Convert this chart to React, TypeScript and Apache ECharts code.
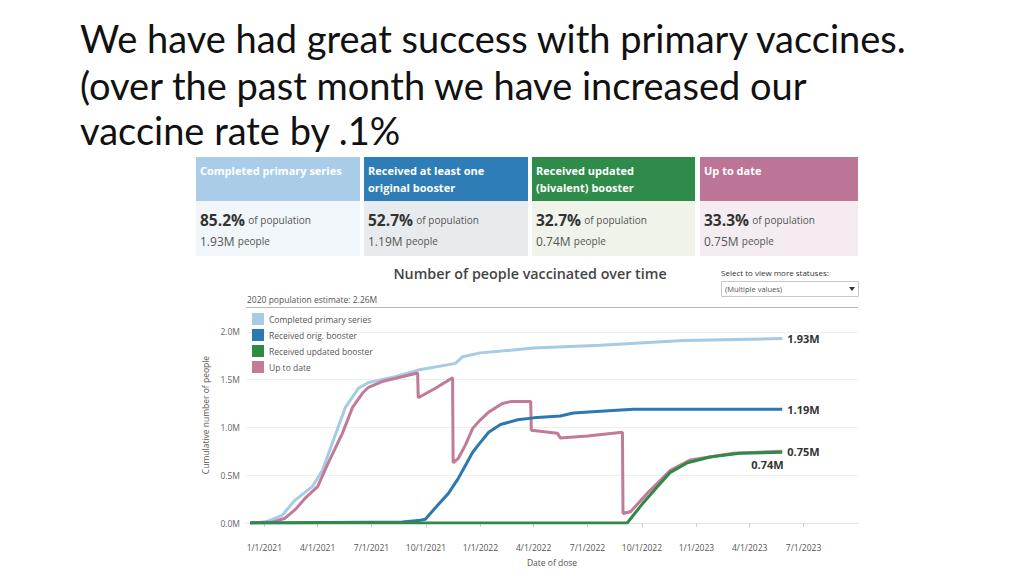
import React, { useEffect, useRef } from 'react';
import * as echarts from 'echarts';

// ---------- text content ----------
const titleLines = [
  'We have had great success with primary vaccines.',
  '(over the past month we have increased our',
  'vaccine rate by .1%',
];
const chartTitle = 'Number of people vaccinated over time';
const selectLabel = 'Select to view more statuses:';
const selectValue = '(Multiple values)';

// ---------- KPI cards ----------
const cardTitles = [
  'Completed primary series',
  'Received at least one\noriginal booster',
  'Received updated\n(bivalent) booster',
  'Up to date',
];
const cardPercents = ['85.2%', '52.7%', '32.7%', '33.3%'];
const cardPeople = ['1.93M', '1.19M', '0.74M', '0.75M'];

// ---------- series ----------
const seriesNames = [
  'Completed primary series',
  'Received orig. booster',
  'Received updated booster',
  'Up to date',
];
const populationEstimate = 2.26; // millions

const completedDates = [
  '2020-12-08', '2021-01-03', '2021-01-31', '2021-02-22', '2021-03-23', '2021-04-09',
  '2021-04-26', '2021-05-18', '2021-06-09', '2021-06-26', '2021-08-10', '2021-09-18',
  '2021-11-20', '2021-12-02', '2022-01-01', '2022-04-01', '2022-07-23', '2022-12-10',
  '2023-05-26',
];
const completedValues = [
  0, 0.01, 0.08, 0.24, 0.38, 0.55,
  0.84, 1.21, 1.41, 1.47, 1.53, 1.6,
  1.67, 1.74, 1.78, 1.83, 1.86, 1.91,
  1.93,
];

const origBoosterDates = [
  '2020-12-08', '2021-08-22', '2021-09-18', '2021-09-30', '2021-10-17', '2021-11-08',
  '2021-11-25', '2021-12-19', '2021-12-29', '2022-01-15', '2022-02-04', '2022-03-05',
  '2022-04-01', '2022-05-16', '2022-06-07', '2022-07-23', '2022-09-17', '2022-11-18',
  '2023-05-26',
];
const origBoosterValues = [
  0, 0.01, 0.025, 0.04, 0.16, 0.31,
  0.47, 0.74, 0.82, 0.95, 1.03, 1.08,
  1.1, 1.12, 1.15, 1.17, 1.19, 1.19,
  1.19,
];

const updatedBoosterDates = [
  '2020-12-08', '2022-09-06', '2022-10-03', '2022-10-27', '2022-11-18', '2022-12-17',
  '2023-01-24', '2023-03-15', '2023-05-26',
];
const updatedBoosterValues = [0, 0, 0.21, 0.38, 0.53, 0.63, 0.69, 0.73, 0.74];

const upToDateDates = [
  '2020-12-08', '2021-01-15', '2021-02-05', '2021-02-22', '2021-03-11', '2021-04-01',
  '2021-04-19', '2021-05-13', '2021-05-30', '2021-06-16', '2021-06-26', '2021-07-19',
  '2021-09-17', '2021-09-18', '2021-10-17', '2021-11-15', '2021-11-16', '2021-11-25',
  '2021-12-07', '2021-12-19', '2021-12-29', '2022-01-15', '2022-02-07', '2022-02-21',
  '2022-03-27', '2022-03-28', '2022-05-11', '2022-05-16', '2022-07-01', '2022-08-29',
  '2022-08-30', '2022-09-12', '2022-10-10', '2022-11-18', '2022-12-22', '2023-03-04',
  '2023-05-26',
];
const upToDateValues = [
  0, 0.01, 0.05, 0.14, 0.26, 0.38,
  0.63, 0.94, 1.21, 1.36, 1.42, 1.48,
  1.57, 1.31, 1.41, 1.52, 0.63, 0.68,
  0.82, 0.99, 1.06, 1.16, 1.25, 1.27,
  1.27, 0.97, 0.94, 0.89, 0.91, 0.95,
  0.1, 0.12, 0.31, 0.55, 0.66, 0.73,
  0.75,
];

const xTickDates = [
  '2021-01-01', '2021-04-01', '2021-07-01', '2021-10-01', '2022-01-01', '2022-04-01',
  '2022-07-01', '2022-10-01', '2023-01-01', '2023-04-01', '2023-07-01',
];
const xMin = '2020-12-01';
const xMax = '2023-10-01';

// ---------- styles ----------
const lineColors = ['#a6cbe6', '#2b78b2', '#2f8a45', '#c27a99'];
const headerColors = ['#a9cde9', '#2e7db6', '#2e8b4a', '#bd7595'];
const bodyColors = ['#f0f6fa', '#e8ebee', '#eff3e9', '#f4ecf1'];
const FONT = '"Open Sans", "Noto Sans", sans-serif';
const TITLE_FONT = 'Lato, "Noto Sans", sans-serif';

const toTs = (s: string) => {
  const [y, m, d] = s.split('-').map(Number);
  return new Date(y, m - 1, d).getTime();
};
const zip = (dates: string[], values: number[]) =>
  dates.map((d, i) => [toTs(d), values[i]]);

export default function App() {
  const ref = useRef<HTMLDivElement>(null);

  useEffect(() => {
    if (!ref.current) return;
    const chart = echarts.init(ref.current, null, { renderer: 'svg' });

    const graphic: any[] = [];
    // big title
    const titleY = [38, 85, 130];
    titleLines.forEach((t, i) => {
      graphic.push({
        type: 'text',
        x: 80,
        y: titleY[i],
        style: {
          text: t,
          fontFamily: TITLE_FONT,
          fontSize: 38,
          fill: '#111',
          verticalAlign: 'middle',
          align: 'left',
        },
      });
    });

    // cards
    const cardX = [196, 364, 532, 700];
    const cardW = [164, 164, 163, 158];
    cardTitles.forEach((t, i) => {
      const x = cardX[i];
      graphic.push({
        type: 'rect',
        shape: { x, y: 157, width: cardW[i], height: 44 },
        style: { fill: headerColors[i] },
      });
      graphic.push({
        type: 'rect',
        shape: { x, y: 201, width: cardW[i], height: 55 },
        style: { fill: bodyColors[i] },
      });
      graphic.push({
        type: 'text',
        x: x + 4,
        y: 162,
        style: {
          text: t,
          fontFamily: FONT,
          fontSize: 11,
          fontWeight: 'bold',
          fill: '#ffffff',
          lineHeight: 17,
          verticalAlign: 'top',
        },
      });
      graphic.push({
        type: 'text',
        x: x + 4,
        y: 220,
        style: {
          text: `{b|${cardPercents[i]}} {s|of population}`,
          rich: {
            b: { fontFamily: FONT, fontSize: 15.5, fontWeight: 'bold', fill: '#333', color: '#333' },
            s: { fontFamily: FONT, fontSize: 10, fill: '#555', color: '#555' },
          },
          verticalAlign: 'middle',
        },
      });
      graphic.push({
        type: 'text',
        x: x + 4,
        y: 241,
        style: {
          text: `{m|${cardPeople[i]}} {s|people}`,
          rich: {
            m: { fontFamily: FONT, fontSize: 12, fill: '#555', color: '#555' },
            s: { fontFamily: FONT, fontSize: 10, fill: '#555', color: '#555' },
          },
          verticalAlign: 'middle',
        },
      });
    });

    // chart title & selector
    graphic.push({
      type: 'text',
      x: 530,
      y: 273,
      style: {
        text: chartTitle,
        fontFamily: FONT,
        fontSize: 14.3,
        fontWeight: 600,
        fill: '#444',
        align: 'center',
        verticalAlign: 'middle',
      },
    });
    graphic.push({
      type: 'text',
      x: 721,
      y: 272,
      style: { text: selectLabel, fontFamily: FONT, fontSize: 8, fill: '#333', verticalAlign: 'middle' },
    });
    graphic.push({
      type: 'rect',
      shape: { x: 721.5, y: 281.5, width: 137, height: 15 },
      style: { fill: '#fff', stroke: '#c8c8c8', lineWidth: 1 },
    });
    graphic.push({
      type: 'text',
      x: 725,
      y: 289,
      style: { text: selectValue, fontFamily: FONT, fontSize: 7.5, fill: '#555', verticalAlign: 'middle' },
    });
    graphic.push({
      type: 'polygon',
      shape: { points: [[849, 287], [855, 287], [852, 291]] },
      style: { fill: '#333' },
    });

    const endLabel = (offset: number[]) => ({
      show: true,
      distance: 5,
      offset,
      fontFamily: FONT,
      fontSize: 11,
      fontWeight: 'bold',
      color: '#333',
      formatter: (p: any) => `${p.value[1].toFixed(2)}M`,
    });

    const mkSeries = (name: string, data: any[], color: string, off: number[], z: number, extra: any = {}) => ({
      name,
      type: 'line',
      data,
      showSymbol: false,
      symbol: 'none',
      z,
      lineStyle: { color, width: 3 },
      itemStyle: { color },
      endLabel: endLabel(off),
      emphasis: { disabled: true },
      ...extra,
    });

    const tickTs = xTickDates.map(toTs);

    const option: any = {
      animation: false,
      backgroundColor: '#ffffff',
      textStyle: { fontFamily: FONT },
      graphic,
      legend: {
        data: seriesNames,
        orient: 'vertical',
        left: 247,
        top: 308,
        icon: 'rect',
        itemWidth: 12,
        itemHeight: 12,
        itemGap: 4,
        textStyle: { fontFamily: FONT, fontSize: 8.5, color: '#555' },
      },
      grid: { left: 246, right: 166, top: 307, bottom: 53, containLabel: false },
      xAxis: {
        type: 'value',
        min: toTs(xMin),
        max: toTs(xMax),
        offset: 13,
        name: 'Date of dose',
        nameLocation: 'middle',
        nameGap: 22,
        nameTextStyle: { fontFamily: FONT, fontSize: 8.5, color: '#555' },
        axisLine: { show: true, lineStyle: { color: '#e4e4e4' } },
        axisTick: {
          show: true,
          length: 4,
          lineStyle: { color: '#cfcfcf' },
          customValues: tickTs,
        },
        axisLabel: {
          fontFamily: FONT,
          fontSize: 8.5,
          color: '#555',
          margin: 7,
          customValues: tickTs,
          formatter: (v: number) => {
            const d = new Date(v);
            return `${d.getMonth() + 1}/${d.getDate()}/${d.getFullYear()}`;
          },
        },
        splitLine: { show: false },
      },
      yAxis: {
        type: 'value',
        min: 0,
        max: populationEstimate,
        interval: 0.5,
        name: 'Cumulative number of people',
        nameLocation: 'middle',
        nameGap: 31,
        nameTextStyle: { fontFamily: FONT, fontSize: 8.5, color: '#555' },
        axisLine: { show: false },
        axisTick: { show: false },
        axisLabel: {
          fontFamily: FONT,
          fontSize: 8.5,
          color: '#666',
          margin: 6,
          showMaxLabel: false,
          formatter: (v: number) => `${v.toFixed(1)}M`,
        },
        splitLine: { show: true, lineStyle: { color: '#efefef', width: 1 } },
      },
      series: [
        mkSeries(seriesNames[0], zip(completedDates, completedValues), lineColors[0], [0, 0], 2, {
          markLine: {
            silent: true,
            symbol: 'none',
            lineStyle: { color: '#b8b8b8', width: 1, type: 'solid' },
            data: [{ yAxis: populationEstimate }],
            label: {
              show: true,
              position: 'insideStartTop',
              distance: [1, 3],
              fontFamily: FONT,
              fontSize: 8.5,
              color: '#555',
              formatter: () => `2020 population estimate: ${populationEstimate}M`,
            },
          },
        }),
        mkSeries(seriesNames[3], zip(upToDateDates, upToDateValues), lineColors[3], [0, 0], 3),
        mkSeries(seriesNames[1], zip(origBoosterDates, origBoosterValues), lineColors[1], [0, 0], 4),
        mkSeries(seriesNames[2], zip(updatedBoosterDates, updatedBoosterValues), lineColors[2], [-36, 12], 5),
      ],
    };

    chart.setOption(option);
    return () => chart.dispose();
  }, []);

  return (
    <div
      ref={ref}
      style={{ position: 'absolute', left: 0, top: 0, width: 1024, height: 576, background: '#fff' }}
    />
  );
}
